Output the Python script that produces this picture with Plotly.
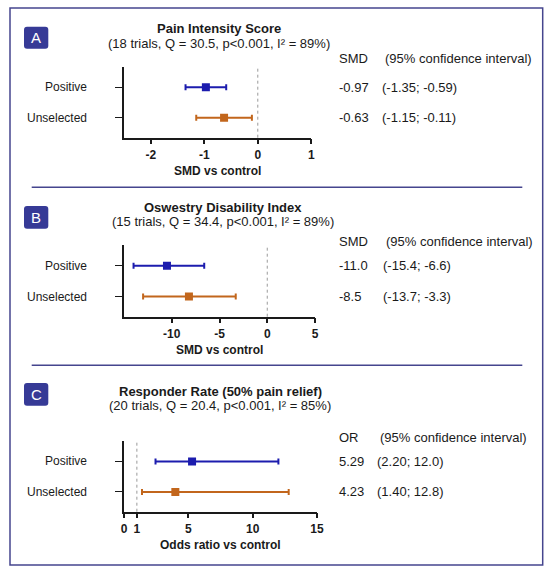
import plotly.graph_objects as go

W, H = 550, 574

groups = ["Positive", "Unselected"]
colors = ["#1c1cae", "#c2661c"]

# A - pain intensity score (SMD)
pain_est = [-0.97, -0.63]
pain_lo = [-1.35, -1.15]
pain_hi = [-0.59, -0.11]
pain_val = ["-0.97", "-0.63"]
pain_ci = ["(-1.35; -0.59)", "(-1.15; -0.11)"]
pain_ticks = [-2, -1, 0, 1]
pain_ticklabels = ["-2", "-1", "0", "1"]

# B - Oswestry disability index (plotted positions)
odi_est = [-10.5, -8.2]
odi_lo = [-14.0, -13.0]
odi_hi = [-6.6, -3.3]
odi_val = ["-11.0", "-8.5"]
odi_ci = ["(-15.4; -6.6)", "(-13.7; -3.3)"]
odi_ticks = [-10, -5, 0, 5]
odi_ticklabels = ["-10", "-5", "0", "5"]

# C - responder rate (odds ratio)
resp_est = [5.29, 3.99]
resp_lo = [2.45, 1.40]
resp_hi = [12.0, 12.8]
resp_val = ["5.29", "4.23"]
resp_ci = ["(2.20; 12.0)", "(1.40; 12.8)"]
resp_ticks = [0, 1, 5, 10, 15]
resp_ticklabels = ["0", "1", "5", "10", "15"]

FONT = "Liberation Sans, Arial, sans-serif"
INK = "#1a1a1a"
FRAME = "#45458e"
BADGE = "#363a96"


def px(x):
    return x / W


def py(y):
    return 1 - y / H


panels = [
    dict(sfx="", letter="A", title="Pain Intensity Score",
         sub="(18 trials, Q = 30.5, p<0.001, I² = 89%)",
         est=pain_est, lo=pain_lo, hi=pain_hi, val=pain_val, ci=pain_ci,
         stat="SMD", xtitle="SMD vs control", rng=[-2.5, 1],
         ticks=pain_ticks, ticklabels=pain_ticklabels, ref=0,
         left=124, right=311.3, top=66.7, bottom=137.7,
         badge=(26.7, 48.7), ty=28.3, sy=43.3, hy=58.3, tx=219, cix=383.3, cvx=380),
    dict(sfx="2", letter="B", title="Oswestry Disability Index",
         sub="(15 trials, Q = 34.4, p<0.001, I² = 89%)",
         est=odi_est, lo=odi_lo, hi=odi_hi, val=odi_val, ci=odi_ci,
         stat="SMD", xtitle="SMD vs control", rng=[-15, 5],
         ticks=odi_ticks, ticklabels=odi_ticklabels, ref=0,
         left=124, right=315, top=245, bottom=316.7,
         badge=(206, 228.7), ty=207.3, sy=221.7, hy=241, tx=223, cix=384, cvx=380.6),
    dict(sfx="3", letter="C", title="Responder Rate (50% pain relief)",
         sub="(20 trials, Q = 20.4, p<0.001, I² = 85%)",
         est=resp_est, lo=resp_lo, hi=resp_hi, val=resp_val, ci=resp_ci,
         stat="OR", xtitle="Odds ratio vs control", rng=[0, 15],
         ticks=resp_ticks, ticklabels=resp_ticklabels, ref=1,
         left=124, right=317, top=441, bottom=511.7,
         badge=(383, 405.7), ty=391, sy=405, hy=437, tx=220.5, cix=377.8, cvx=374.6),
]


def rounded(x0, y0, x1, y1, r):
    # rounded rectangle path, pixel coords in, paper coords out
    pts = []
    pts.append(f"M {px(x0 + r)} {py(y0)}")
    pts.append(f"L {px(x1 - r)} {py(y0)}")
    pts.append(f"Q {px(x1)} {py(y0)} {px(x1)} {py(y0 + r)}")
    pts.append(f"L {px(x1)} {py(y1 - r)}")
    pts.append(f"Q {px(x1)} {py(y1)} {px(x1 - r)} {py(y1)}")
    pts.append(f"L {px(x0 + r)} {py(y1)}")
    pts.append(f"Q {px(x0)} {py(y1)} {px(x0)} {py(y1 - r)}")
    pts.append(f"L {px(x0)} {py(y0 + r)}")
    pts.append(f"Q {px(x0)} {py(y0)} {px(x0 + r)} {py(y0)}")
    return " ".join(pts) + " Z"


fig = go.Figure()
shapes = []
annotations = []
layout = {}

for p in panels:
    s = p["sfx"]
    for j, g in enumerate(groups):
        yv = 1 - j
        fig.add_trace(go.Scatter(
            x=[p["est"][j]], y=[yv], mode="markers", name=g,
            marker=dict(symbol="square", size=8, color=colors[j]),
            error_x=dict(type="data", symmetric=False,
                         array=[p["hi"][j] - p["est"][j]],
                         arrayminus=[p["est"][j] - p["lo"][j]],
                         color=colors[j], thickness=2, width=3),
            xaxis="x" + s, yaxis="y" + s, showlegend=False, hoverinfo="skip"))

        # row label and printed estimate
        annotations.append(dict(x=px(89), y=yv, xref="paper", yref="y" + s, text=g,
                                xanchor="right", yanchor="middle", showarrow=False,
                                font=dict(size=12, color=INK)))
        annotations.append(dict(x=px(336.5), y=yv, xref="paper", yref="y" + s, text=p["val"][j],
                                xanchor="left", yanchor="middle", showarrow=False,
                                font=dict(size=13, color=INK)))
        annotations.append(dict(x=px(p["cvx"]), y=yv, xref="paper", yref="y" + s, text=p["ci"][j],
                                xanchor="left", yanchor="middle", showarrow=False,
                                font=dict(size=13, color=INK)))

    layout["xaxis" + s] = dict(
        domain=[px(p["left"]), px(p["right"])], range=p["rng"],
        tickvals=p["ticks"], ticktext=p["ticklabels"],
        anchor="y" + s, showline=True, linecolor=INK, linewidth=1.5,
        ticks="outside", ticklen=5, tickwidth=1.5, tickcolor=INK,
        tickfont=dict(size=12, color=INK, weight="bold"),
        showgrid=False, zeroline=False, fixedrange=True, automargin=False)
    layout["yaxis" + s] = dict(
        domain=[py(p["bottom"]), py(p["top"])], range=[-0.65, 1.67],
        tickvals=[0, 1], ticktext=["", ""], anchor="x" + s,
        showline=True, linecolor=INK, linewidth=1.5,
        ticks="outside", ticklen=7, tickwidth=1.2, tickcolor=INK,
        showgrid=False, zeroline=False, fixedrange=True, automargin=False)

    # dotted no-effect line
    shapes.append(dict(type="line", xref="x" + s, yref="y" + s + " domain",
                       x0=p["ref"], x1=p["ref"], y0=0, y1=1,
                       line=dict(color="#9a9a9a", width=1, dash="dot")))

    # badge
    b0, b1 = p["badge"]
    shapes.append(dict(type="path", xref="paper", yref="paper",
                       path=rounded(24, b0, 48.3, b1, 3),
                       fillcolor=BADGE, line=dict(width=0)))
    annotations.append(dict(x=px(36.2), y=py((b0 + b1) / 2), xref="paper", yref="paper",
                            text=p["letter"], showarrow=False, xanchor="center", yanchor="middle",
                            font=dict(size=15, color="white")))

    # titles
    annotations.append(dict(x=px(p["tx"]), y=py(p["ty"]), xref="paper", yref="paper",
                            text="<b>" + p["title"] + "</b>", showarrow=False,
                            xanchor="center", yanchor="middle", font=dict(size=13, color=INK)))
    annotations.append(dict(x=px(p["tx"]), y=py(p["sy"]), xref="paper", yref="paper",
                            text=p["sub"], showarrow=False,
                            xanchor="center", yanchor="middle", font=dict(size=13, color=INK)))

    # column headers
    annotations.append(dict(x=px(336.5), y=py(p["hy"]), xref="paper", yref="paper",
                            text=p["stat"], showarrow=False, xanchor="left", yanchor="middle",
                            font=dict(size=13, color=INK)))
    annotations.append(dict(x=px(p["cix"]), y=py(p["hy"]), xref="paper", yref="paper",
                            text="(95% confidence interval)", showarrow=False,
                            xanchor="left", yanchor="middle", font=dict(size=13, color=INK)))

    # axis title
    annotations.append(dict(x=0.5, y=py(p["bottom"] + 33.5), xref="x" + s + " domain", yref="paper",
                            text="<b>" + p["xtitle"] + "</b>", showarrow=False,
                            xanchor="center", yanchor="middle", font=dict(size=12, color=INK)))

# frame and separators
shapes.append(dict(type="rect", xref="paper", yref="paper",
                   x0=px(10), x1=px(542.7), y0=py(565), y1=py(8),
                   line=dict(color=FRAME, width=1.5)))
for sy in [187.3, 365.3]:
    shapes.append(dict(type="line", xref="paper", yref="paper",
                       x0=px(31.7), x1=px(522.3), y0=py(sy), y1=py(sy),
                       line=dict(color=FRAME, width=1.5)))

fig.update_layout(
    width=W, height=H,
    margin=dict(l=0, r=0, t=0, b=0, autoexpand=False),
    paper_bgcolor="white", plot_bgcolor="white",
    font=dict(family=FONT, color=INK),
    shapes=shapes, annotations=annotations,
    **layout)

# drop the default page margin so the figure sits at the window origin
fig.write_html("out.html", config={"displayModeBar": False},
               post_script="document.body.style.margin='0';")
